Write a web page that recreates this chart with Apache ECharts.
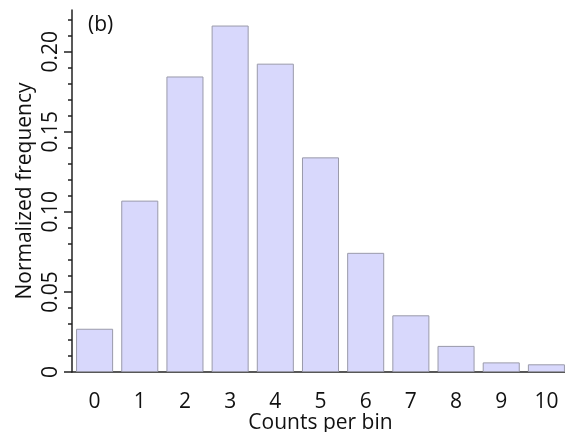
<!DOCTYPE html>
<html lang="en">
<head>
  <meta charset="UTF-8">
  <title>Counts per bin</title>
  <script src="https://cdn.jsdelivr.net/npm/echarts@6/dist/echarts.min.js"></script>
</head>
<body style="margin:0;background:#fff">
  <div id="main" style="width:565px;height:432px;"></div>
  <script type="text/javascript">
    // data
    const bins = ['0', '1', '2', '3', '4', '5', '6', '7', '8', '9', '10']
    const freq = [0.027, 0.107, 0.1845, 0.2163, 0.1925, 0.134, 0.0744, 0.0354, 0.0163, 0.006, 0.0048]
    const majorTicks = [0, 0.05, 0.10, 0.15, 0.20]
    const minorTicks = [0.01, 0.02, 0.03, 0.04, 0.06, 0.07, 0.08, 0.09, 0.11, 0.12, 0.13, 0.14,
      0.16, 0.17, 0.18, 0.19, 0.21, 0.22]

    const font = '"Open Sans", sans-serif'
    const axisColor = '#222'

    var myChart = echarts.init(document.getElementById('main'))

    myChart.setOption({
      animation: false,
      grid: { left: 72, right: -4, top: 10, bottom: 60, outerBoundsMode: 'none' },
      graphic: [{
        type: 'text', left: 88, top: 15,
        style: { text: '(b)', font: '21px ' + font, fill: '#111' }
      }],
      xAxis: {
        type: 'category',
        data: bins,
        name: 'Counts per bin',
        nameLocation: 'middle',
        nameGap: 41,
        nameMoveOverlap: false,
        nameTextStyle: { fontFamily: font, fontSize: 21, color: '#111' },
        axisLine: { lineStyle: { color: axisColor, width: 1.5 } },
        axisTick: { alignWithLabel: true, length: 6, lineStyle: { color: axisColor, width: 1.5 } },
        axisLabel: { fontFamily: font, fontSize: 21, color: '#111', margin: 20 }
      },
      yAxis: [{
        type: 'value',
        min: 0,
        max: 0.226,
        name: 'Normalized frequency',
        nameLocation: 'middle',
        nameGap: 36,
        nameMoveOverlap: false,
        nameTextStyle: { fontFamily: font, fontSize: 21, color: '#111' },
        splitLine: { show: false },
        axisLine: { show: true, lineStyle: { color: axisColor, width: 1.5 } },
        axisTick: { show: true, length: 8, customValues: majorTicks, lineStyle: { color: axisColor, width: 1.5 } },
        axisLabel: {
          rotate: 90, margin: 10, fontFamily: font, fontSize: 21, color: '#111',
          customValues: majorTicks,
          formatter: v => v === 0 ? '0' : v.toFixed(2)
        }
      }, {
        type: 'value',
        min: 0,
        max: 0.226,
        position: 'left',
        splitLine: { show: false },
        axisLine: { show: false },
        axisTick: { show: true, length: 4, customValues: minorTicks, lineStyle: { color: axisColor, width: 1.5 } },
        axisLabel: { show: false }
      }],
      series: [{
        type: 'bar',
        data: freq,
        barCategoryGap: '18%',
        itemStyle: { color: '#d8d8fc', borderColor: '#9a9aaa', borderWidth: 1 }
      }]
    })
  </script>
</body>
</html>
